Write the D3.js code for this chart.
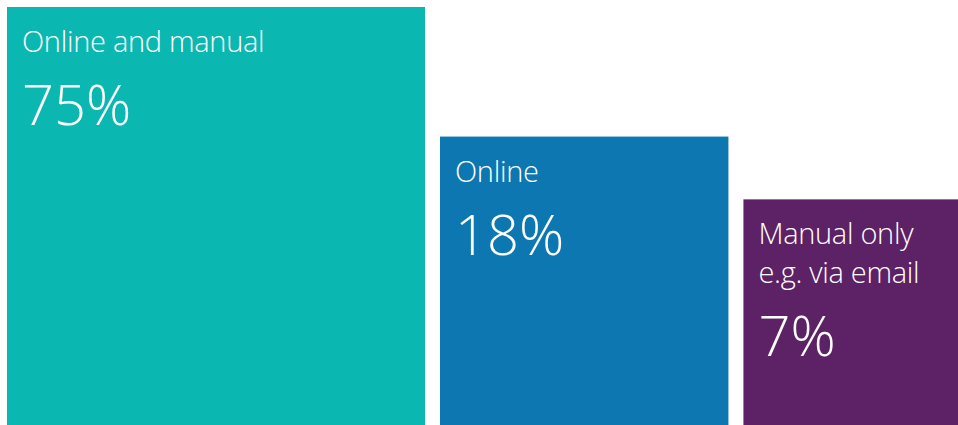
<!DOCTYPE html>
<html>
<head>
<meta charset="utf-8">
<script src="https://cdn.jsdelivr.net/npm/d3@7"></script>
<style>
  html, body { margin: 0; padding: 0; background: #fff; }
  svg { display: block; }
  .label, .value { fill: #fff; font-family: "Open Sans", sans-serif; font-weight: 300; }
  .label { letter-spacing: -0.3px; }
</style>
</head>
<body>
<div id="chart"></div>
<script>
// data
const labels = [["Online and manual"], ["Online"], ["Manual only", "e.g. via email"]];
const values = [75, 18, 7];
const colors = ["#0bb7b1", "#0d77b1", "#5d2165"];

let width = 958,
    height = 425,
    left = 7,
    gap = 15,
    padX = 15,
    labelSize = 29,
    valueSize = 56,
    lineStep = 38.7;

let svg = d3.select("#chart").append("svg")
    .attr("width", width)
    .attr("height", height);

// square side grows slowly with the share
let side = d3.scalePow()
    .exponent(0.26)
    .domain([0, d3.max(values)])
    .range([0, 418]);

let data = values.map((v, i) => ({ value: v, lines: labels[i], color: colors[i] }));
let x = left;
data.forEach(d => {
    d.size = side(d.value);
    d.x = x;
    d.y = height - d.size;
    x += d.size + gap;
});

let g = svg.selectAll(".tile")
    .data(data)
    .enter()
    .append("g")
        .attr("class", "tile")
        .attr("transform", d => `translate(${d.x},${d.y})`);

g.append("rect")
    .attr("width", d => d.size)
    .attr("height", d => d.size)
    .attr("fill", d => d.color);

g.each(function(d) {
    let t = d3.select(this);
    d.lines.forEach((line, j) => {
        t.append("text")
            .attr("class", "label")
            .attr("x", padX)
            .attr("y", 45 + j * lineStep)
            .attr("font-size", labelSize)
            .text(line);
    });
    t.append("text")
        .attr("class", "value")
        .attr("x", padX)
        .attr("y", 118 + (d.lines.length - 1) * lineStep)
        .attr("font-size", valueSize)
        .text(d.value + "%");
});
</script>
</body>
</html>
